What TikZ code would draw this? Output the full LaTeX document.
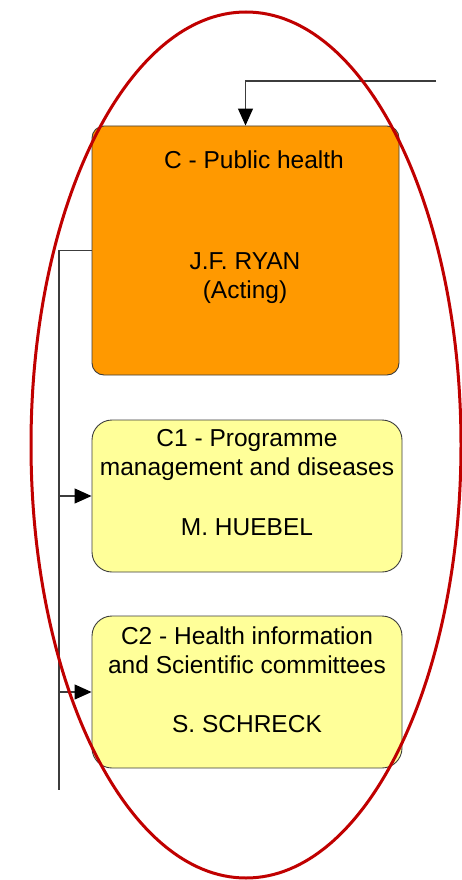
\documentclass[tikz,border=0pt]{standalone}
\usepackage{fontspec}
\setmainfont{Liberation Sans}
\usetikzlibrary{arrows.meta,positioning}
\definecolor{unitorange}{RGB}{255,153,0}
\definecolor{unityellow}{RGB}{255,255,153}
\definecolor{ringred}{RGB}{192,0,0}
\definecolor{linegray}{RGB}{60,60,60}

\begin{document}
\begin{tikzpicture}[x=1pt,y=-1pt,
  unit/.style={draw=linegray,line width=0.9pt,minimum width=307pt,minimum height=249pt,rounded corners=12pt,fill=unitorange,inner sep=0pt},
  sub/.style={draw=linegray,line width=0.9pt,minimum width=310pt,minimum height=152pt,rounded corners=20pt,fill=unityellow,inner sep=0pt},
  txt/.style={font=\fontsize{24.5}{29}\selectfont,align=center,inner sep=0pt},
  link/.style={linegray,line width=1.2pt},
  arr/.style={link,-{Triangle[length=17pt,width=15pt,fill=black,color=black]}}]
\useasboundingbox (0,0) rectangle (462,880);
% boxes
\node[unit] (pub) at (245.5,250.5) {};
\node[sub] (c1) at (247,496) {};
\node[sub] (c2) at (247,692) {};
% texts
\node[txt] (pubname) at (254,160) {C - Public health};
\node[txt] (pubhead) at (245,278) {J.F. RYAN\\(Acting)};
\node[txt] (c1name) at (247,454.5) {C1 - Programme\\management and diseases};
\node[txt] (c1head) at (247,527) {M. HUEBEL};
\node[txt] (c2name) at (247,650.5) {C2 - Health information\\and Scientific committees};
\node[txt] (c2head) at (247,724) {S. SCHRECK};
% connectors
\coordinate (feed) at (436,81);
\coordinate (spinetop) at (59,250.5);
\coordinate (spineend) at (59,790);
\draw[arr] (feed) -| (pub.north);
\draw[link] (pub.west) -- (spinetop) -- (spineend);
\draw[arr] (spinetop |- c1.west) -- (c1.west);
\draw[arr] (spinetop |- c2.west) -- (c2.west);
% ring
\draw[ringred,line width=3pt] (246,445) ellipse (215 and 433);
\end{tikzpicture}
\end{document}
